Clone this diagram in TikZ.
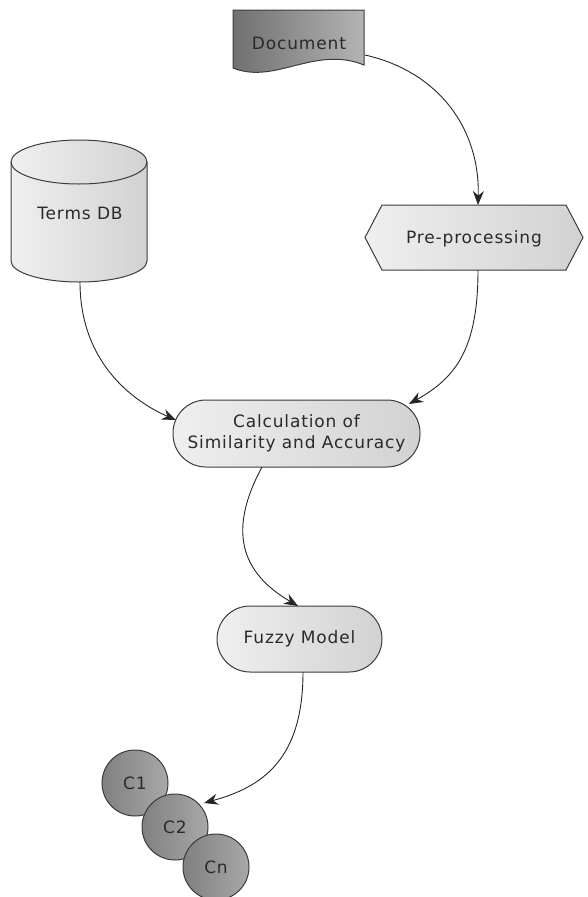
\documentclass[tikz,border=0pt]{standalone}
\usepackage{fontspec}
\setmainfont{DejaVu Sans}[LetterSpace=5]
\usetikzlibrary{arrows.meta}
\definecolor{txt}{HTML}{2A2A2A}
\definecolor{edge}{HTML}{3C3C3C}
\definecolor{lightL}{HTML}{EFEFEF}
\definecolor{lightR}{HTML}{D2D2D2}
\definecolor{darkL}{HTML}{707070}
\definecolor{darkR}{HTML}{B4B4B4}
\definecolor{circL}{HTML}{808080}
\definecolor{circR}{HTML}{A8A8A8}
\tikzset{
  outline/.style={draw=edge, line width=1pt},
  lightfill/.style={left color=lightL, right color=lightR},
  darkfill/.style={left color=darkL, right color=darkR},
  circfill/.style={left color=circL, right color=circR},
  lbl/.style={font=\fontsize{17}{21}\selectfont, text=txt, align=center, inner sep=1pt},
  stadium/.style={outline, lightfill, rectangle, rounded corners=33pt, lbl},
  cnode/.style={outline, circfill, circle, minimum size=66pt, lbl},
  conn/.style={draw=black!85, line width=0.9pt, -{Stealth[length=14pt,width=11pt]}}
}
\begin{document}
\begin{tikzpicture}[x=1pt,y=-1pt]
\useasboundingbox (0,0) rectangle (588,897);
% Document shape
\path[outline, darkfill] (233,10) -- (364,10) -- (364,65)
  .. controls (315,45) and (275,85) .. (233,68) -- cycle;
\node[lbl] (doc) at (299,43) {Document};
% Terms DB cylinder
\path[outline, lightfill] (11,162) -- (11,261) arc[start angle=180, end angle=0, x radius=68, y radius=21]
  -- (147,162) arc[start angle=0, end angle=-180, x radius=68, y radius=22] -- cycle;
\draw[outline] (11,162) arc[start angle=180, end angle=0, x radius=68, y radius=22];
\node[lbl] (db) at (80,213) {Terms DB};
% Pre-processing hexagon
\path[outline, lightfill] (365,237.5) -- (382,205) -- (566,205) -- (583,237.5) -- (566,270) -- (382,270) -- cycle;
\node[lbl] (pre) at (474,239) {Pre-processing};
% Calculation
\node[stadium, minimum width=247pt, minimum height=67pt] (calc) at (296.5,433.5) {Calculation of\\Similarity and Accuracy};
% Fuzzy model
\node[stadium, minimum width=165pt, minimum height=66pt] (fuzzy) at (299.5,639) {Fuzzy Model};
% Clusters
\node[cnode] (c1) at (135,783) {C1};
\node[cnode] (c2) at (175,827) {C2};
\node[cnode] (cn) at (216,867) {Cn};
% connector end points
\coordinate (docout) at (365,55);
\coordinate (prein) at (478,205);
\coordinate (preout) at (478,270);
\coordinate (dbout) at (80,282);
\coordinate (calcinL) at (176,420);
\coordinate (calcinR) at (409,404);
\coordinate (calcout) at (262,467);
\coordinate (fuzzyin) at (298,606);
\coordinate (fuzzyout) at (303,672);
\coordinate (c2in) at (204,803);
% connectors
\draw[conn] (docout) .. controls (440,72) and (480,130) .. (prein);
\draw[conn] (dbout) .. controls (80,360) and (130,400) .. (calcinL);
\draw[conn] (preout) .. controls (478,350) and (455,378) .. (calcinR);
\draw[conn] (calcout) .. controls (228,530) and (240,572) .. (fuzzyin);
\draw[conn] (fuzzyout) .. controls (303,760) and (262,787) .. (c2in);
\end{tikzpicture}
\end{document}
